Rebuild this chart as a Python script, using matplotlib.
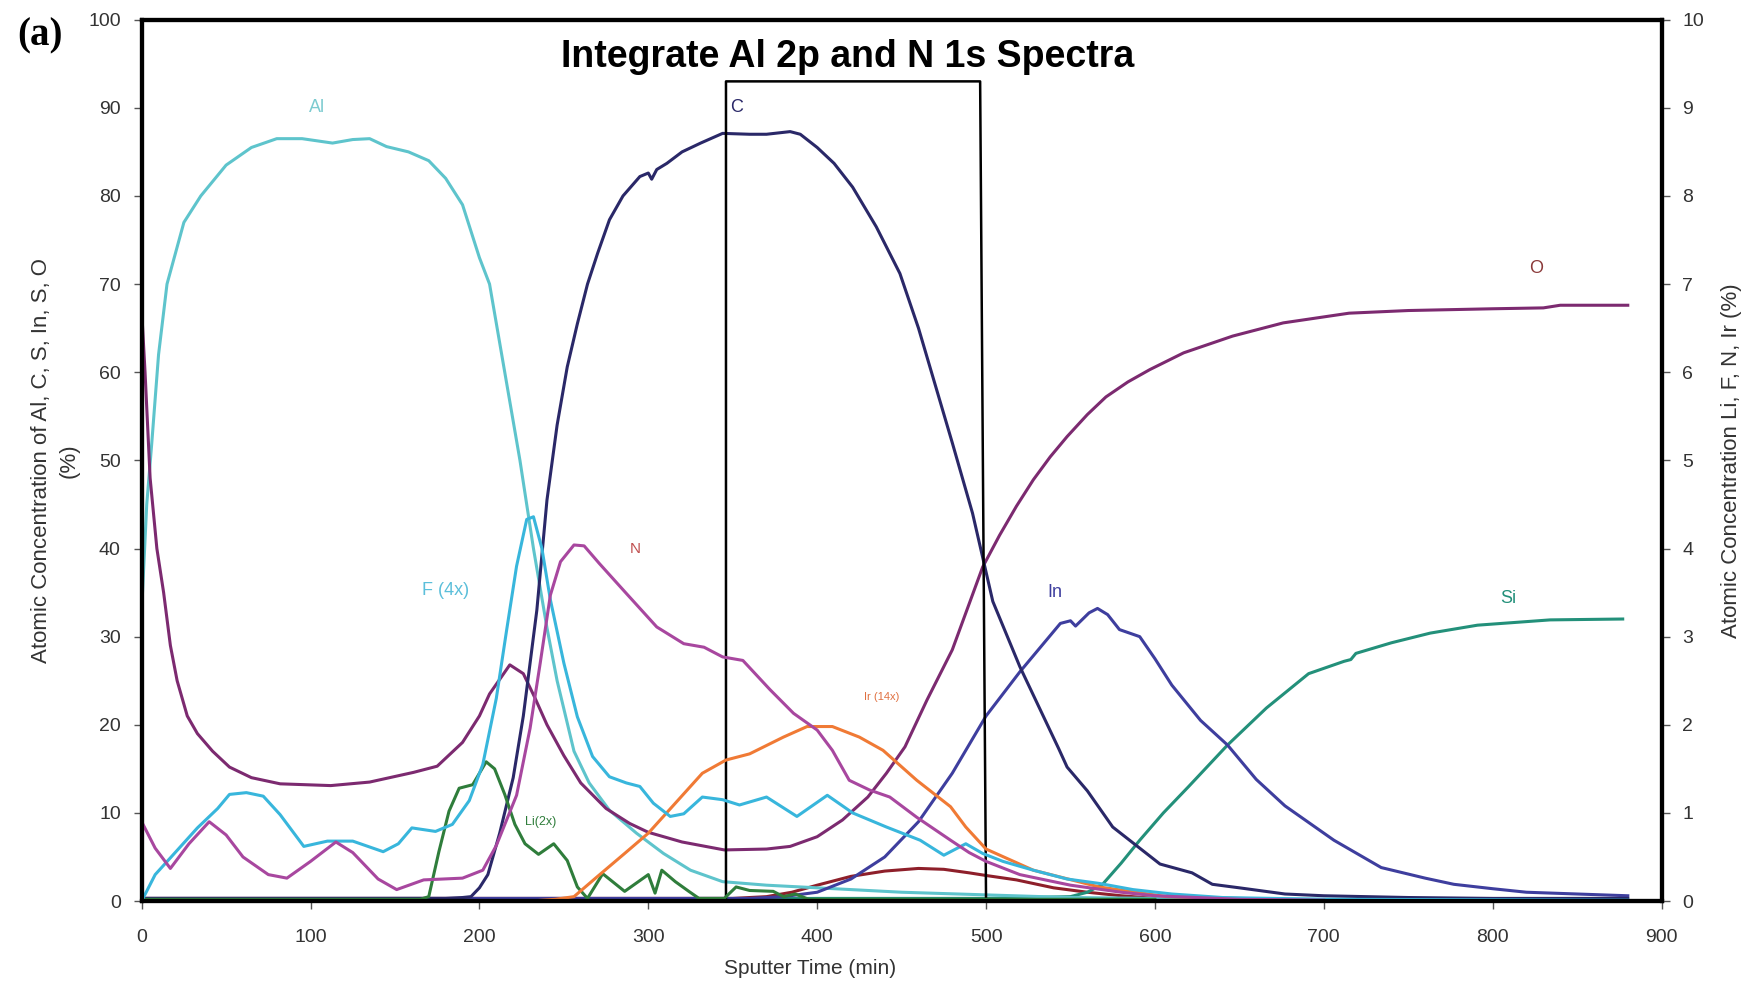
import numpy as np
import matplotlib
matplotlib.use("Agg")
import matplotlib.pyplot as plt

plt.rcParams['font.family'] = ['Liberation Sans', 'DejaVu Sans']

# left axis series (%)
al_t = [0, 3, 6, 10, 15, 25, 35, 50, 65, 80, 95, 113, 125, 135, 145, 158, 170, 180, 190, 200, 206, 215, 224,
        232, 240, 246, 256, 265, 277, 293, 309, 325, 344, 370, 400, 450, 500, 550, 600, 700, 880]
al_v = [33, 45, 52, 62, 70, 77, 80, 83.5, 85.5, 86.5, 86.5, 86, 86.4, 86.5, 85.6, 85, 84, 82, 79, 73, 70, 60, 50,
        40, 31, 25, 17, 13.4, 10.3, 7.7, 5.4, 3.5, 2.2, 1.8, 1.5, 1, 0.7, 0.4, 0.3, 0.2, 0.1]

c_t = [0, 180, 190, 195, 200, 205, 212, 220, 226, 234, 240, 246, 252, 258, 264, 270, 277, 285, 295, 300, 302,
       305, 311, 320, 331, 344, 360, 370, 384, 390, 400, 410, 421, 435, 449, 460, 480, 492, 504, 520, 543, 548,
       560, 575, 595, 603, 622, 634, 650, 677, 700, 750, 800, 880]
c_v = [0.3, 0.3, 0.4, 0.5, 1.5, 3, 7.7, 14, 21, 33, 45.5, 54, 60.6, 65.5, 70, 73.5, 77.3, 80, 82.2, 82.6, 81.9,
       83, 83.7, 85, 86, 87.1, 87, 87, 87.3, 87, 85.5, 83.7, 81, 76.5, 71.2, 65, 52, 44, 34, 26.6, 17.3, 15.2,
       12.5, 8.4, 5.4, 4.2, 3.2, 1.9, 1.5, 0.8, 0.6, 0.4, 0.3, 0.3]

in_t = [0, 360, 380, 400, 420, 440, 460, 480, 500, 520, 544, 550, 553, 561, 566, 572, 579, 591, 600, 610, 627,
        643, 660, 677, 706, 734, 760, 777, 800, 820, 850, 880]
in_v = [0.3, 0.3, 0.5, 1, 2.5, 5, 9, 14.5, 21, 26, 31.5, 31.8, 31.2, 32.7, 33.2, 32.5, 30.8, 30, 27.5, 24.5,
        20.5, 17.7, 13.8, 10.8, 6.9, 3.8, 2.6, 1.9, 1.4, 1.0, 0.8, 0.6]

si_t = [0, 300, 400, 500, 550, 560, 569, 580, 591, 605, 620, 643, 666, 691, 712, 716, 719, 740, 763, 791, 834, 877]
si_v = [0.2, 0.2, 0.3, 0.3, 0.5, 1, 1.9, 4.3, 6.9, 10, 13, 17.7, 21.9, 25.8, 27.2, 27.4, 28.1, 29.3, 30.4, 31.3,
        31.9, 32]

o_t = [0, 2, 5, 9, 13, 17, 21, 27, 33, 42, 52, 65, 82, 112, 135, 161, 175, 190, 200, 206, 218, 226, 233, 240,
       250, 260, 275, 289, 300, 320, 345, 370, 384, 400, 415, 430, 441, 452, 465, 480, 498, 508, 518, 528, 538,
       548, 560, 571, 584, 597, 617, 646, 676, 715, 750, 800, 830, 840, 880]
o_v = [67, 60, 48, 40, 35, 29, 25, 21, 19, 17, 15.2, 14, 13.3, 13.1, 13.5, 14.6, 15.3, 18, 21, 23.5, 26.8, 25.8,
       23, 20, 16.5, 13.4, 10.5, 8.8, 7.8, 6.7, 5.8, 5.9, 6.2, 7.3, 9.2, 11.8, 14.5, 17.5, 22.8, 28.5, 37.9, 41.5,
       44.8, 47.8, 50.4, 52.7, 55.2, 57.2, 58.9, 60.3, 62.2, 64.1, 65.6, 66.7, 67, 67.2, 67.3, 67.6, 67.6]

s_t = [0, 350, 370, 385, 400, 420, 440, 460, 475, 490, 500, 518, 540, 560, 580, 600, 650, 700]
s_v = [0.3, 0.3, 0.5, 1, 1.8, 2.8, 3.4, 3.7, 3.6, 3.2, 2.9, 2.4, 1.5, 1, 0.6, 0.3, 0.1, 0.1]

# right axis series (%)
f_t = [0, 8, 17, 33, 45, 52, 62, 72, 82, 96, 110, 125, 143, 152, 160, 174, 184, 194, 202, 210, 216, 222, 228,
       232, 237, 242, 250, 258, 267, 277, 287, 295, 303, 313, 321, 332, 344, 354, 370, 388, 406, 421, 441, 461,
       475, 488, 498, 510, 528, 548, 567, 587, 610, 640, 700, 880]
f_v = [0, 0.30, 0.49, 0.83, 1.05, 1.21, 1.23, 1.19, 0.98, 0.62, 0.68, 0.68, 0.56, 0.65, 0.83, 0.79, 0.87, 1.14,
       1.55, 2.30, 3.06, 3.80, 4.33, 4.36, 4.00, 3.42, 2.70, 2.09, 1.64, 1.41, 1.34, 1.30, 1.11, 0.96, 0.99, 1.18,
       1.15, 1.09, 1.18, 0.96, 1.20, 1.00, 0.84, 0.69, 0.52, 0.65, 0.54, 0.45, 0.35, 0.25, 0.20, 0.13, 0.08, 0.04,
       0.02, 0.01]

n_t = [0, 8, 17, 28, 40, 50, 60, 75, 86, 100, 115, 125, 140, 151, 167, 190, 202, 210, 222, 230, 236, 242, 248,
       256, 262, 271, 287, 305, 321, 333, 344, 356, 372, 386, 400, 409, 419, 431, 443, 459, 479, 490, 500, 520,
       550, 580, 600, 650, 700]
n_v = [0.90, 0.60, 0.37, 0.65, 0.90, 0.75, 0.50, 0.30, 0.26, 0.45, 0.67, 0.55, 0.25, 0.13, 0.24, 0.26, 0.35,
       0.63, 1.20, 1.96, 2.70, 3.47, 3.85, 4.04, 4.03, 3.83, 3.49, 3.11, 2.92, 2.88, 2.77, 2.73, 2.40, 2.13, 1.94,
       1.71, 1.37, 1.26, 1.18, 0.95, 0.69, 0.55, 0.45, 0.30, 0.18, 0.10, 0.06, 0.02, 0.01]

li_t = [0, 165, 170, 176, 182, 188, 196, 204, 209, 215, 221, 227, 235, 244, 252, 258, 264, 273, 286, 300, 304,
        308, 316, 324, 330, 345, 352, 360, 374, 380, 387, 395, 420, 600]
li_v = [0.02, 0.02, 0.05, 0.56, 1.02, 1.28, 1.32, 1.58, 1.50, 1.21, 0.87, 0.65, 0.53, 0.65, 0.46, 0.16, 0.03,
        0.31, 0.11, 0.30, 0.09, 0.35, 0.22, 0.11, 0.03, 0.03, 0.16, 0.12, 0.11, 0.05, 0.08, 0.02, 0.02, 0.02]

ir_t = [200, 230, 245, 256, 270, 286, 300, 316, 332, 346, 360, 380, 394, 409, 425, 439, 459, 469, 479, 488, 500,
        528, 567, 607, 650, 700]
ir_v = [0, 0, 0.02, 0.05, 0.28, 0.54, 0.77, 1.11, 1.45, 1.60, 1.67, 1.86, 1.98, 1.98, 1.86, 1.71, 1.37, 1.22,
        1.07, 0.84, 0.59, 0.35, 0.16, 0.05, 0.03, 0.01]

# box marking the integration window
box_t = [346, 346, 496.5, 500]
box_v = [0, 93, 93, 0]

fig = plt.figure(figsize=(17.49, 9.84), dpi=100)
ax = fig.add_axes([0.081, 0.0843, 0.869, 0.8957])
ax2 = ax.twinx()

lw = 2.2
ax.plot(s_t, s_v, color='#8E1F2A', lw=lw)
ax.plot(si_t, si_v, color='#23907A', lw=lw)
ax.plot(al_t, al_v, color='#5EC4CC', lw=lw)
ax.plot(o_t, o_v, color='#7C2A70', lw=lw)
ax.plot(in_t, in_v, color='#3E3E9E', lw=lw)
ax.plot(c_t, c_v, color='#2A2868', lw=lw)

ax2.plot(li_t, li_v, color='#2F7D3B', lw=lw)
ax2.plot(ir_t, ir_v, color='#F07A35', lw=lw)
ax2.plot(f_t, f_v, color='#38B6DC', lw=lw)
ax2.plot(n_t, n_v, color='#A8479F', lw=lw)

ax.plot(box_t, box_v, color='black', lw=1.8, zorder=5)
ax.text(418, 95.8, 'Integrate Al 2p and N 1s Spectra', ha='center', va='center',
        fontsize=27, fontweight='bold', color='black')

# curve labels
ax.text(104, 90, 'Al', color='#7CCBD0', fontsize=13, ha='center', va='center')
ax.text(352, 90, 'C', color='#2A2868', fontsize=13, ha='center', va='center')
ax.text(826, 71.8, 'O', color='#8B3A3A', fontsize=13, ha='center', va='center')
ax.text(292.5, 39.9, 'N', color='#C05050', fontsize=11, ha='center', va='center')
ax.text(180, 35.2, 'F (4x)', color='#5BBFDA', fontsize=13, ha='center', va='center')
ax.text(541, 35, 'In', color='#3E3E9E', fontsize=13, ha='center', va='center')
ax.text(809.5, 34.3, 'Si', color='#23907A', fontsize=13, ha='center', va='center')
ax.text(438, 23.2, 'Ir (14x)', color='#E07040', fontsize=8, ha='center', va='center')
ax.text(236, 9, 'Li(2x)', color='#2F7D3B', fontsize=9, ha='center', va='center')

ax.set_xlim(0, 900)
ax.set_ylim(0, 100)
ax2.set_ylim(0, 10)
ax.set_xticks(np.arange(0, 901, 100))
ax.set_yticks(np.arange(0, 101, 10))
ax2.set_yticks(np.arange(0, 11, 1))

for a in (ax, ax2):
    for sp in a.spines.values():
        sp.set_linewidth(3)
    a.tick_params(labelsize=14, labelcolor='#333333', color='#555555', length=6, width=1, pad=9)
ax.tick_params(axis='x', pad=14)

ax.set_xlabel('Sputter Time (min)', fontsize=15, color='#333333', va='center')
ax.xaxis.set_label_coords(0.44, -0.076)
ax.set_ylabel('Atomic Concentration of Al, C, S, In, S, O\n(%)', fontsize=16, color='#333333',
              linespacing=1.4)
ax.yaxis.set_label_coords(-0.041, 0.5)
ax2.set_ylabel('Atomic Concentration Li, F, N, Ir (%)', fontsize=16, color='#333333')
ax2.yaxis.set_label_coords(1.039, 0.5)

fig.text(0.01, 0.963, '(a)', fontsize=28, fontweight='bold', family='Liberation Serif', va='center')

fig.savefig('out.png', dpi=100, facecolor='white')
